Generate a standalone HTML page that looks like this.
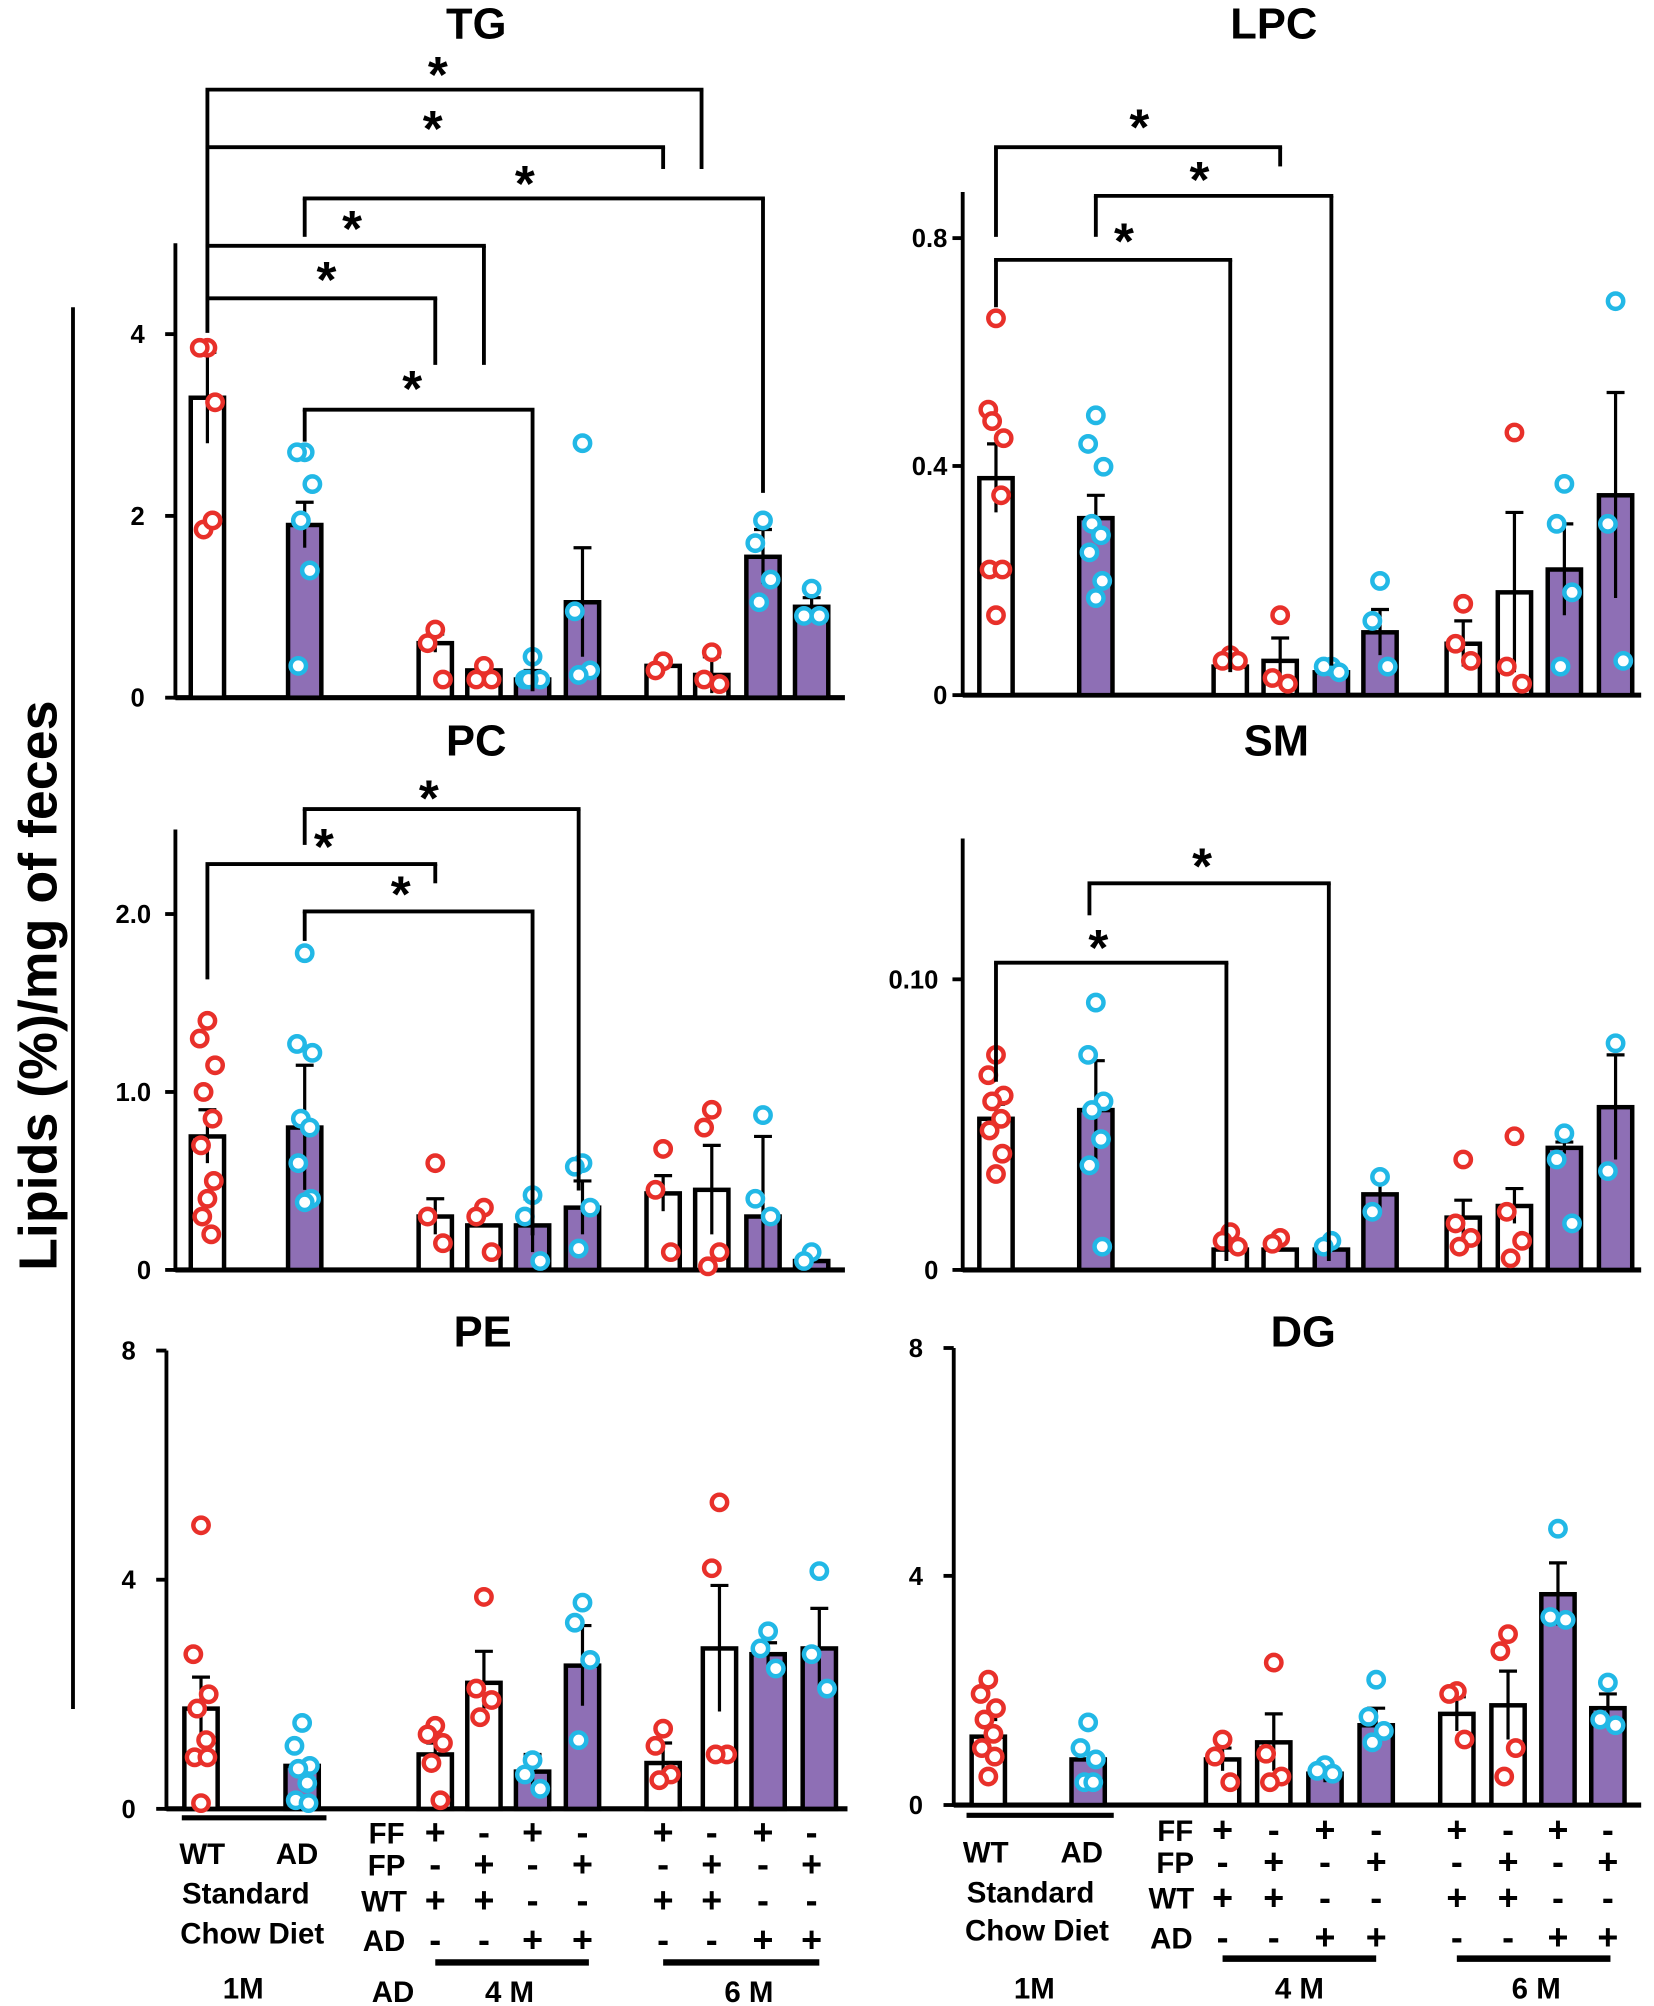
<!DOCTYPE html>
<html><head><meta charset="utf-8"><style>
html,body{margin:0;padding:0;background:#fff}
svg{display:block}
text{font-family:"Liberation Sans",Arial,sans-serif;font-weight:bold;fill:#000}
</style></head><body>
<svg id="s" width="1654" height="2006" viewBox="0 0 1292 1567" xmlns="http://www.w3.org/2000/svg">
<g id="g"></g>
<g font-size="34" text-anchor="middle">
<text x="372" y="30">TG</text><text x="995" y="30">LPC</text>
<text x="372" y="590">PC</text><text x="997" y="590">SM</text>
<text x="377" y="1052">PE</text><text x="1018" y="1052">DG</text>
</g>
<text x="30" y="770" font-size="42" text-anchor="middle" transform="rotate(-90 30 770)" dy="14">Lipids (%)/mg of feces</text>
<line x1="57" y1="240" x2="57" y2="1335" stroke="#000" stroke-width="3"/>
<g font-size="20" text-anchor="end">
<text x="113" y="268">4</text><text x="113" y="410">2</text><text x="113" y="552">0</text>
<text x="740" y="193">0.8</text><text x="740" y="371">0.4</text><text x="740" y="550">0</text>
<text x="118" y="721">2.0</text><text x="118" y="860">1.0</text><text x="118" y="999">0</text>
<text x="733" y="772">0.10</text><text x="733" y="999">0</text>
<text x="106" y="1062">8</text><text x="106" y="1241">4</text><text x="106" y="1420">0</text>
<text x="721" y="1060">8</text><text x="721" y="1238">4</text><text x="721" y="1417">0</text>
</g>
<g font-size="40" text-anchor="middle">
<text x="342" y="72">*</text><text x="338" y="114">*</text><text x="410" y="157">*</text><text x="275" y="192">*</text><text x="255" y="232">*</text><text x="322" y="317">*</text>
<text x="890" y="113">*</text><text x="937" y="154">*</text><text x="878" y="202">*</text>
<text x="335" y="637">*</text><text x="253" y="675">*</text><text x="313" y="712">*</text>
<text x="939" y="690">*</text><text x="858" y="754">*</text>
</g>
<g font-size="23" text-anchor="middle">
<text x="158" y="1456">WT</text><text x="232" y="1456">AD</text>
<text x="192" y="1487">Standard</text><text x="197" y="1518">Chow Diet</text>
<text x="190" y="1561">1M</text><text x="307" y="1564">AD</text><text x="398" y="1564">4 M</text><text x="585" y="1564">6 M</text>
<text x="302" y="1440">FF</text><text x="302" y="1465">FP</text><text x="300" y="1493">WT</text><text x="300" y="1524">AD</text>
<text x="770" y="1455">WT</text><text x="845" y="1455">AD</text>
<text x="805" y="1486">Standard</text><text x="810" y="1516">Chow Diet</text>
<text x="808" y="1561">1M</text><text x="1015" y="1561">4 M</text><text x="1200" y="1561">6 M</text>
<text x="918" y="1438">FF</text><text x="918" y="1463">FP</text><text x="915" y="1491">WT</text><text x="915" y="1522">AD</text>
</g>
<g id="pm" font-size="28" text-anchor="middle"></g>
</svg>
<script>
var g=document.getElementById('g'),NS='http://www.w3.org/2000/svg';
function el(t,a,p){var e=document.createElementNS(NS,t);for(var k in a)e.setAttribute(k,a[k]);(p||g).appendChild(e);return e}
function L(x1,y1,x2,y2,w){el('line',{x1:x1,y1:y1,x2:x2,y2:y2,stroke:'#000','stroke-width':w||3})}
var P='#8e6fb5',R='#e8302a',B='#22b8e6';
function panel(ax,base,top,xend,ppu,ticks,bars){
  L(ax,top,ax,base+1.5,3);L(ax,base,xend,base,4);
  ticks.forEach(function(t){L(ax-8,t,ax,t,3)});
  bars.forEach(function(b,i){
    var x=b[0],m=b[1],e=b[2],pur=b[3],d=b[4],h=m*ppu;
    el('rect',{x:x-13,y:base-h,width:26,height:h,fill:pur?P:'#fff',stroke:'#000','stroke-width':3.5});
    if(e){var y1=base-(m+e)*ppu,y0=base-Math.max(0,m-e)*ppu;L(x,y1,x,y0,2.5);L(x-7,y1,x+7,y1,2.5);}
    d.forEach(function(v,j){var dx=[0,-6,6,-3,4,-5,5,0,-4,3][j%10];
      el('circle',{cx:x+dx,cy:base-v*ppu,r:6,fill:'#fff',stroke:pur?B:R,'stroke-width':3.5});});
  });
}
var LX=[162,238,340,378,416,455,518,556,596,634],RX=[778,856,961,1000,1040,1078,1143,1183,1222,1262];
var pur=[0,1,0,0,1,1,0,0,1,1];
function mk(xs,arr){return arr.map(function(a,i){return [xs[i],a[0],a[1],pur[i],a[2]]})}
panel(137,545,190,660,71,[261,403,545],mk(LX,[[3.3,.5,[3.85,3.85,3.25,1.85,1.95]],[1.9,.25,[2.7,2.7,2.35,1.95,1.4,.35]],[.6,.1,[.75,.6,.2]],[.3,0,[.35,.2,.2]],[.2,.1,[.45,.2,.2,.2]],[1.05,.6,[2.8,.95,.3,.25]],[.35,0,[.4,.3]],[.25,.2,[.5,.2,.15]],[1.55,.3,[1.95,1.7,1.3,1.05]],[1,.1,[1.2,.9,.9]]]));
panel(752,543,150,1282,446,[186,364,543],mk(RX,[[.38,.06,[.66,.5,.45,.48,.35,.22,.22,.14]],[.31,.04,[.49,.44,.4,.3,.28,.25,.2,.17]],[.05,0,[.07,.06,.06]],[.06,.04,[.14,.03,.02]],[.04,0,[.05,.05,.04]],[.11,.04,[.2,.13,.05]],[.09,.04,[.16,.09,.06]],[.18,.14,[.46,.05,.02]],[.22,.08,[.37,.3,.18,.05]],[.35,.18,[.69,.3,.06]]]));
panel(137,992,648,660,139,[714,853,992],mk(LX,[[.75,.15,[1.4,1.3,1.15,1,.85,.7,.5,.4,.3,.2]],[.8,.35,[1.78,1.27,1.22,.85,.8,.6,.4,.38]],[.3,.1,[.6,.3,.15]],[.25,0,[.35,.3,.1]],[.25,.15,[.42,.3,.05]],[.35,.15,[.6,.58,.35,.12]],[.43,.1,[.68,.45,.1]],[.45,.25,[.9,.8,.1,.02]],[.3,.45,[.87,.4,.3]],[.05,0,[.1,.05]]]));
panel(752,992,655,1282,2270,[765,992],mk(RX,[[.052,.005,[.074,.067,.06,.058,.052,.048,.04,.033]],[.055,.017,[.092,.074,.058,.055,.045,.036,.008]],[.007,0,[.013,.01,.008]],[.007,0,[.011,.009]],[.007,0,[.01,.008]],[.026,.006,[.032,.02]],[.018,.006,[.038,.016,.011,.008]],[.022,.006,[.046,.02,.01,.004]],[.042,.002,[.047,.038,.016]],[.056,.018,[.078,.034]]]));
var PX=[157,236,340,378,416,455,518,562,600,640],DX=[772,850,955,995,1035,1075,1138,1178,1217,1256];
panel(130,1413,1055,662,44.75,[1055,1234,1413],mk(PX,[[1.75,.55,[4.95,2.7,2,1.75,1.2,.9,.9,.1]],[.75,0,[1.5,1.1,.75,.7,.45,.15,.1]],[.95,.2,[1.45,1.3,1.15,.8,.15]],[2.2,.55,[3.7,2.1,1.9,1.6]],[.65,.3,[.85,.6,.35]],[2.5,.7,[3.6,3.25,2.6,1.2]],[.8,.35,[1.4,1.1,.6,.5]],[2.8,1.1,[5.35,4.2,.95,.95]],[2.7,.2,[3.1,2.8,2.45]],[2.8,.7,[4.15,2.7,2.1]]]));
panel(745,1410,1053,1282,44.5,[1053,1231,1410],mk(DX,[[1.2,.3,[2.2,1.95,1.7,1.5,1.25,1,.85,.5]],[.8,0,[1.45,1,.8,.4,.4]],[.8,.2,[1.15,.85,.4]],[1.1,.5,[2.5,.9,.5,.4]],[.55,.15,[.7,.6,.55]],[1.4,.3,[2.2,1.55,1.3,1.1]],[1.6,.3,[2,1.95,1.15]],[1.75,.6,[3,2.7,1,.5]],[3.7,.55,[4.85,3.3,3.25]],[1.7,.25,[2.15,1.5,1.4]]]));
// brackets
function br(x1,l0,l1,x2,y,r){L(x1,l0,x1,l1,3);L(x1-1.5,y,x2+1.5,y,3);L(x2,y,x2,r,3)}
br(162,70,260,548,70,132);br(162,115,115,518,115,132);br(238,155,185,596,155,385);
br(162,192,192,378,192,285);br(162,233,233,340,233,285);br(238,320,345,416,320,540);
br(778,115,185,1000,115,130);br(856,153,185,1040,153,520);br(778,203,240,961,203,525);
br(238,632,660,452,632,930);br(162,675,765,340,675,690);br(238,712,735,416,712,965);
br(851,690,715,1038,690,985);br(778,752,845,958,752,985);
// table lines
L(142,1420,255,1420,4);L(340,1533,460,1533,5);L(518,1533,640,1533,5);
L(755,1418,870,1418,4);L(955,1530,1075,1530,5);L(1138,1530,1258,1530,5);
var pm=document.getElementById('pm');
var rows=[['+','-','+','-','+','-','+','-'],['-','+','-','+','-','+','-','+'],['+','+','-','-','+','+','-','-'],['-','-','+','+','-','-','+','+']];
function tbl(cols,ys){rows.forEach(function(r,i){r.forEach(function(c,j){var t=el('text',{x:cols[j],y:ys[i]},pm);t.textContent=c;})})}
tbl([340,378,416,455,518,556,596,634],[1441,1466,1494,1525]);
tbl([955,995,1035,1075,1138,1178,1217,1256],[1439,1464,1492,1523]);
</script>
</body></html>
